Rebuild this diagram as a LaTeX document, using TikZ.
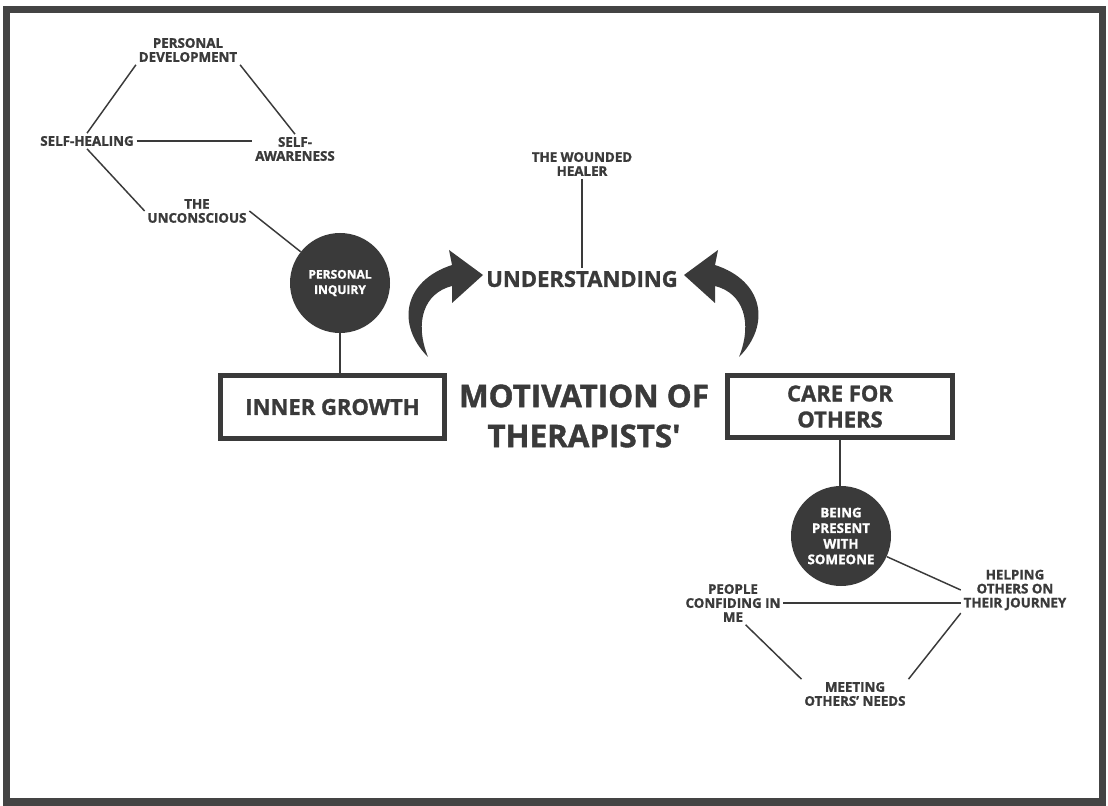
\documentclass[tikz,border=0pt]{standalone}
\usepackage{fontspec}
\setmainfont{Open Sans}[BoldFeatures={FakeBold=1.3}]
\definecolor{ink}{HTML}{3A3A3A}
\definecolor{framec}{HTML}{444444}
\begin{document}
\begin{tikzpicture}[x=0.75pt,y=-0.75pt,
  lbl/.style={font=\fontsize{10}{10.5}\selectfont\bfseries, text=ink, align=center, inner sep=2pt},
  conn/.style={draw=ink, line width=1.1pt},
  dot/.style={circle, fill=ink, minimum size=75pt, inner sep=0pt, text=white, align=center},
  bigbox/.style={draw=ink, line width=3.75pt, fill=white, align=center, text=ink,
    font=\fontsize{16.5}{19.5}\selectfont\bfseries, inner sep=0pt},
  arrowshape/.style={fill=ink}
]
\useasboundingbox (0,0) rectangle (1108,806);
\fill[white] (0,0) rectangle (1108,806);
\draw[framec, line width=5.5pt] (6.5,9.5) rectangle (1102.5,802);

% left cluster
\node[lbl] (pd) at (188,50) {PERSONAL\\DEVELOPMENT};
\node[lbl] (sh) at (87,141) {SELF-HEALING};
\node[lbl] (sa) at (295,149) {SELF-\\AWARENESS};
\node[lbl] (unc) at (197,211) {THE\\UNCONSCIOUS};
\node[dot, font=\fontsize{9}{11.5}\selectfont\bfseries] (pi) at (340,283) {PERSONAL\\INQUIRY};
\node[bigbox, minimum width=168pt, minimum height=47.25pt] (ig) at (332.5,407) {INNER GROWTH};

% center
\node[lbl] (wh) at (582,164) {THE WOUNDED\\HEALER};
\node[text=ink, inner sep=2pt, font=\fontsize{16.5}{20}\selectfont\bfseries] (und) at (582,279) {UNDERSTANDING};
\node[text=ink, align=center, inner sep=0pt, font=\fontsize{23.5}{30}\selectfont\bfseries] (mot) at (584,416) {MOTIVATION OF\\THERAPISTS\textquotesingle};

% right cluster
\node[bigbox, minimum width=168.75pt, minimum height=46.5pt] (cfo) at (840,406.5) {CARE FOR\\OTHERS};
\node[dot, font=\fontsize{10}{11.7}\selectfont\bfseries] (bp) at (841,536) {BEING\\PRESENT\\WITH\\SOMEONE};
\node[lbl] (ho) at (1015,590) {HELPING\\OTHERS ON\\THEIR JOURNEY};
\node[lbl] (pc) at (733,603) {PEOPLE\\CONFIDING IN\\ME};
\node[lbl] (mo) at (855,694) {MEETING\\OTHERS' NEEDS};

% connectors
\draw[conn] (pd.south west) -- (sh.north);
\draw[conn] (pd.south east) -- (sa.north);
\draw[conn] (sh.east) -- (sh.east -| sa.west);
\draw[conn] (sh.south) -- (unc.west);
\draw[conn] (unc.east) -- (pi);
\draw[conn] (pi.south) -- (pi.south |- ig.north);
\draw[conn] (wh.south) -- (und.north);
\draw[conn] (cfo.south) -- (cfo.south |- bp.north);
\draw[conn] (bp) -- (ho.west);
\draw[conn] (pc.east) -- (pc.east -| ho.west);
\draw[conn] (pc.-60) -- (mo.north west);
\draw[conn] (ho.south west) -- (mo.north east);

% curved arrows
\fill[arrowshape] (428,357) .. controls (396,325) and (403,281) .. (452,265)
  -- (449,250) -- (483,275) -- (452,303) -- (452,286)
  .. controls (424,293) and (414,322) .. (428,357) -- cycle;
\begin{scope}[shift={(1167,0)}, xscale=-1]
\fill[arrowshape] (428,357) .. controls (396,325) and (403,281) .. (452,265)
  -- (449,250) -- (483,275) -- (452,303) -- (452,286)
  .. controls (424,293) and (414,322) .. (428,357) -- cycle;
\end{scope}
\end{tikzpicture}
\end{document}
